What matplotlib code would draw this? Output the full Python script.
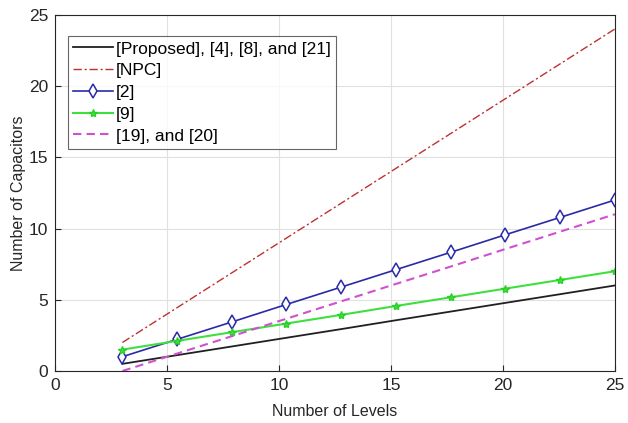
import matplotlib.pyplot as plt

plt.rcParams['font.family'] = ['Liberation Sans', 'DejaVu Sans']

# Number of levels at the plotted points
levels = [3, 5.44, 7.89, 10.33, 12.78, 15.22, 17.67, 20.11, 22.56, 25]

# Number of capacitors for each topology
cap_proposed = [0.5, 1.11, 1.72, 2.33, 2.94, 3.56, 4.17, 4.78, 5.39, 6.0]
cap_npc = [2.0, 4.44, 6.89, 9.33, 11.78, 14.22, 16.67, 19.11, 21.56, 24.0]
cap_ref2 = [1.0, 2.22, 3.44, 4.67, 5.89, 7.11, 8.33, 9.56, 10.78, 12.0]
cap_ref9 = [1.5, 2.11, 2.72, 3.33, 3.94, 4.56, 5.17, 5.78, 6.39, 7.0]
cap_ref19 = [0.0, 1.22, 2.44, 3.67, 4.89, 6.11, 7.33, 8.56, 9.78, 11.0]

labels = ['[Proposed], [4], [8], and [21]', '[NPC]', '[2]', '[9]', '[19], and [20]']

fig = plt.figure(figsize=(6.28, 4.23), dpi=100)
ax = fig.add_axes([0.088, 0.123, 0.891, 0.842])

ax.plot(levels, cap_proposed, color='#202020', lw=1.3, label=labels[0])
ax.plot(levels, cap_npc, color='#c03030', lw=1.0, ls=(0, (6, 2, 1.5, 2)), label=labels[1])
ax.plot(levels, cap_ref2, color='#2a2aa8', lw=1.2, marker='d', ms=7,
        mfc='white', mec='#2a2aa8', mew=1.1, label=labels[2])
ax.plot(levels, cap_ref9, color='#3ee03e', lw=1.5, marker='*', ms=6,
        mec='#2ad02a', label=labels[3])
ax.plot(levels, cap_ref19, color='#d050d0', lw=1.5, ls=(0, (4, 2.5)), label=labels[4])

ax.set_xlim(0, 25)
ax.set_ylim(0, 25)
ax.set_xticks(range(0, 26, 5))
ax.set_yticks(range(0, 26, 5))
ax.grid(True, color='#e0e0e0', lw=0.8)
ax.set_axisbelow(True)
ax.tick_params(direction='in', labelsize=12.5, colors='#262626', length=4, pad=5)
for s in ax.spines.values():
    s.set_color('#262626')
    s.set_linewidth(0.8)

ax.set_xlabel('Number of Levels', fontsize=11.5, color='#262626', labelpad=8)
ax.set_ylabel('Number of Capacitors', fontsize=11.5, color='#262626', labelpad=2)

leg = ax.legend(loc='upper left', bbox_to_anchor=(0.023, 0.94), fontsize=12.5,
                frameon=True, fancybox=False, edgecolor='#404040',
                handlelength=2.3, handletextpad=0.15, labelspacing=0.38,
                borderpad=0.3, borderaxespad=0)
leg.get_frame().set_linewidth(0.8)

fig.savefig('out.png', dpi=100)
